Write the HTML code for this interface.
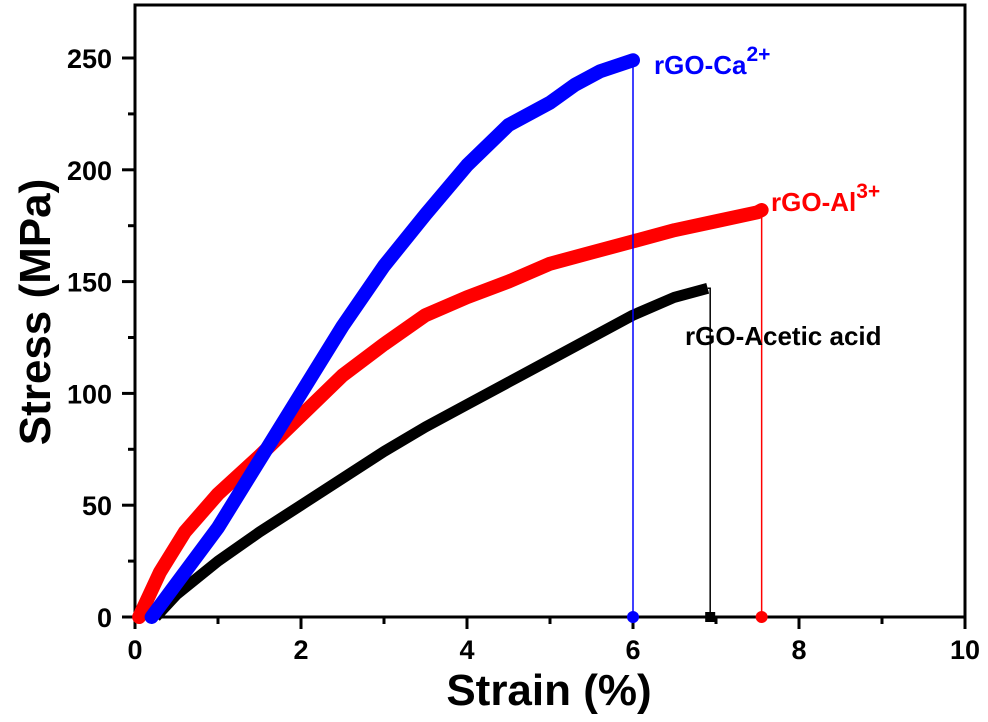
<!DOCTYPE html>
<html><head><meta charset="utf-8"><style>
body{margin:0;background:#fff}
text{font-family:"Liberation Sans",Arial,sans-serif;font-weight:bold}
</style></head><body>
<svg id="chart" width="988" height="717">
<rect x="135" y="5" width="830" height="612" fill="none" stroke="#000" stroke-width="3"/>
<g id="axes"></g><g id="series"></g>
<text x="549" y="705" font-size="44" text-anchor="middle">Strain (%)</text>
<text transform="translate(50,312) rotate(-90)" font-size="44" text-anchor="middle">Stress (MPa)</text>
<text x="654" y="74" font-size="26" fill="#0000ff">rGO-Ca<tspan dy="-13" font-size="21">2+</tspan></text>
<text x="771" y="211" font-size="26" fill="#ff0000">rGO-Al<tspan dy="-13" font-size="21">3+</tspan></text>
<text x="685" y="345" font-size="26" fill="#000">rGO-Acetic acid</text>
</svg>
<script>
const xTicks=[0,2,4,6,8,10];
const yTicks=[0,50,100,150,200,250];
const caX=[0.2,0.5,1,1.5,2,2.5,3,3.5,4,4.5,5,5.3,5.6,6];
const caY=[0,15,40,70,100,130,157,180,202,220,230,238,244,249];
const alX=[0.05,0.3,0.6,1,1.5,2,2.5,3,3.5,4,4.5,5,5.5,6,6.5,7,7.5,7.55];
const alY=[0,20,38,55,72,90,108,122,135,143,150,158,163,168,173,177,181,182];
const acX=[0.25,0.5,1,1.5,2,2.5,3,3.5,4,4.5,5,5.5,6,6.5,6.9];
const acY=[0,10,25,38,50,62,74,85,95,105,115,125,135,143,147];
const breakX=[6.0,7.55,6.93];
const NS="http://www.w3.org/2000/svg";
const sx=v=>135+v*83.0, sy=v=>617-v*2.236;
const ax=document.getElementById('axes'), se=document.getElementById('series');
function mk(t,a,p){const e=document.createElementNS(NS,t);for(const k in a)e.setAttribute(k,a[k]);p.appendChild(e);return e;}
xTicks.forEach((v,i)=>{
 const t=mk('line',{x1:sx(v),x2:sx(v),y1:617,y2:629,stroke:'#000','stroke-width':3},ax);
 
 
 if(i<xTicks.length-1){const m=mk('line',{x1:sx(v+1),x2:sx(v+1),y1:617,y2:624,stroke:'#000','stroke-width':3},ax);
 
 }
 const l=mk('text',{x:sx(v),y:659,'font-size':27,'text-anchor':'middle'},ax);l.textContent=v;
 
 
});
yTicks.forEach((v,i)=>{
 const t=mk('line',{x1:122,x2:135,y1:sy(v),y2:sy(v),stroke:'#000','stroke-width':3},ax);
 
 
 if(i<yTicks.length-1){const m=mk('line',{x1:128,x2:135,y1:sy(v+25),y2:sy(v+25),stroke:'#000','stroke-width':3},ax);
 
 }
 const l=mk('text',{x:112,y:sy(v)+10,'font-size':27,'text-anchor':'end'},ax);l.textContent=v;
 
 
});
function series(xs,ys,col,bx,name,square){
 const g=mk('g',{},se);
 
 
 const pts=xs.map((x,i)=>sx(x)+','+sy(ys[i])).join(' ');
 mk('polyline',{points:pts,fill:'none',stroke:col,'stroke-width':square?11:14,'stroke-linejoin':'round','stroke-linecap':square?'butt':'round'},g);
 const lx=xs[xs.length-1], ly=ys[ys.length-1];
 mk('polyline',{points:`${sx(lx)},${sy(ly)} ${sx(bx)},${sy(ly)} ${sx(bx)},${sy(0)}`,fill:'none',stroke:col,'stroke-width':1.5},g);
 if(square) mk('rect',{x:sx(bx)-5,y:sy(0)-5,width:10,height:10,fill:col},g);
 else mk('circle',{cx:sx(bx),cy:sy(0),r:6,fill:col},g);
}
series(acX,acY,'#000',breakX[2],'series-acetic-acid',true);
series(alX,alY,'#ff0000',breakX[1],'series-al',false);
series(caX,caY,'#0000ff',breakX[0],'series-ca',false);
</script>
</body></html>
